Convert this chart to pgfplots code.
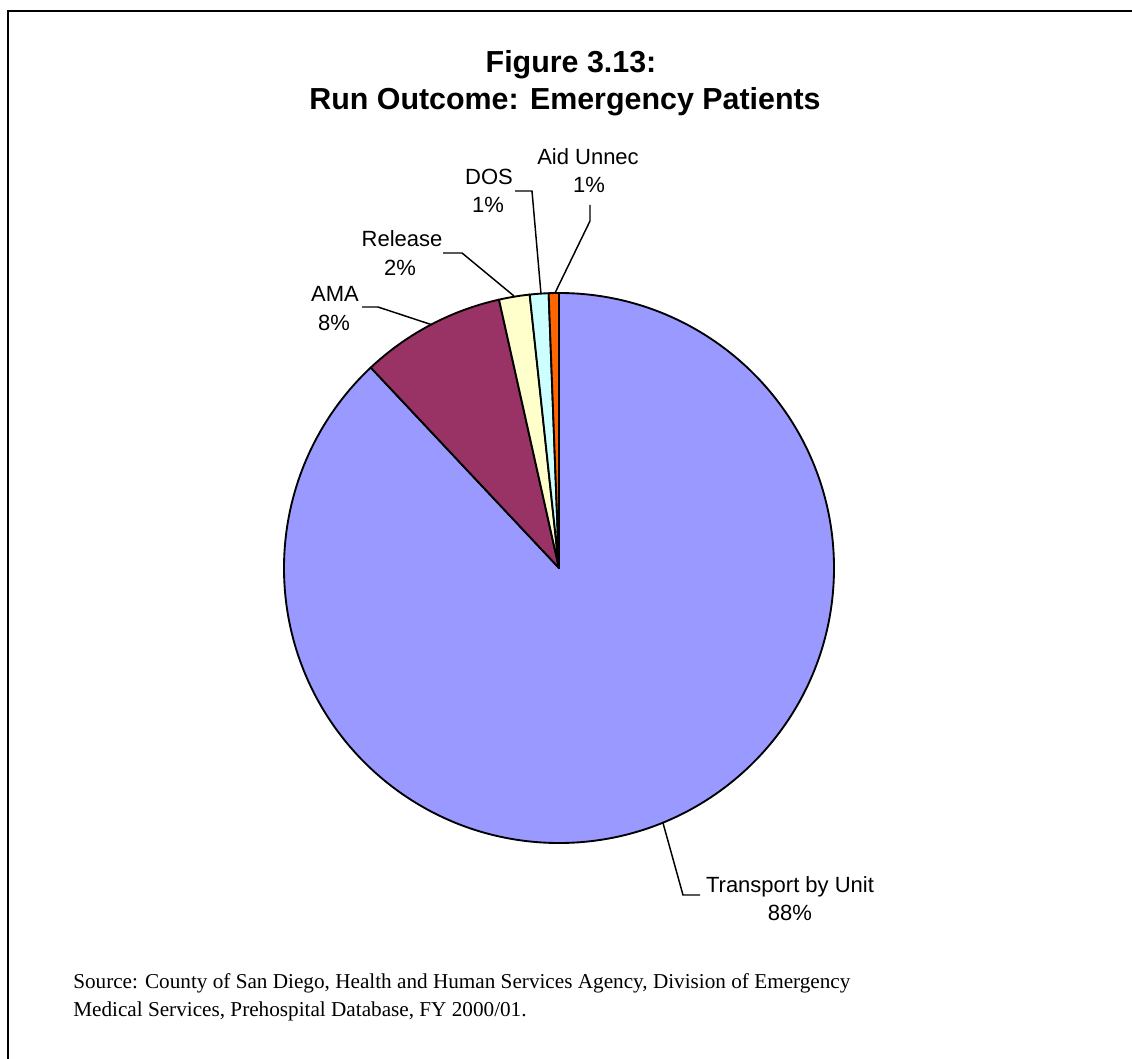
\documentclass[border=0pt]{standalone}
\usepackage{fontspec}
\setmainfont{Liberation Serif}
\newfontfamily\arial{Liberation Sans}
\usepackage{pgfplots}
\usepackage{pgfplotstable}
\pgfplotsset{compat=1.18}

\definecolor{cTransport}{HTML}{9999FF}
\definecolor{cAMA}{HTML}{993366}
\definecolor{cRelease}{HTML}{FFFFCC}
\definecolor{cDOS}{HTML}{CCFFFF}
\definecolor{cAid}{HTML}{FF6600}

\pgfplotstableread{
label value
Transport 88.0
AMA 8.5
Release 1.8
DOS 1.1
AidUnnec 0.6
}\piedata

\pgfplotstablegetelem{0}{value}\of\piedata\let\vA\pgfplotsretval
\pgfplotstablegetelem{1}{value}\of\piedata\let\vB\pgfplotsretval
\pgfplotstablegetelem{2}{value}\of\piedata\let\vC\pgfplotsretval
\pgfplotstablegetelem{3}{value}\of\piedata\let\vD\pgfplotsretval
\pgfplotstablegetelem{4}{value}\of\piedata\let\vE\pgfplotsretval
\pgfmathsetmacro\aA{90}
\pgfmathsetmacro\aB{\aA-3.6*\vA}
\pgfmathsetmacro\aC{\aB-3.6*\vB}
\pgfmathsetmacro\aD{\aC-3.6*\vC}
\pgfmathsetmacro\aE{\aD-3.6*\vD}
\pgfmathsetmacro\aF{\aE-3.6*\vE}

\newcommand\pieslice[3]{%
  \filldraw[fill=#1,draw=black,line width=1.4pt,line join=round]
    (axis cs:559,568) -- ++(#2:206.25pt) arc[start angle=#2,end angle=#3,radius=206.25pt] -- cycle;}

\begin{document}
\begin{tikzpicture}
\begin{axis}[
  name=ax,
  scale only axis,
  width=849pt, height=794.25pt,
  xmin=0, xmax=1132, ymin=0, ymax=1059,
  y dir=reverse,
  axis lines=none,
  clip=true,
]
% frame (open at right and bottom)
\addplot[black, line width=1.9pt, mark=none] coordinates {(8.2,1200) (8.2,10.8) (1300,10.8)};

% pie slices
\pieslice{cTransport}{\aA}{\aB}
\pieslice{cAMA}{\aB}{\aC}
\pieslice{cRelease}{\aC}{\aD}
\pieslice{cDOS}{\aD}{\aE}
\pieslice{cAid}{\aE}{\aF}

% leader lines
\addplot[black, line width=1.1pt, mark=none] coordinates {(362,307) (378,307) (431,324.5)};
\addplot[black, line width=1.1pt, mark=none] coordinates {(443,253) (462,253) (514,296)};
\addplot[black, line width=1.1pt, mark=none] coordinates {(515,191) (532,191) (541,294)};
\addplot[black, line width=1.1pt, mark=none] coordinates {(590,205) (590,221) (555,293)};
\addplot[black, line width=1.1pt, mark=none] coordinates {(663,823) (683,895) (700,895)};

% title
\node[anchor=base, font=\arial\bfseries\fontsize{22.8}{27}\selectfont] at (axis cs:571,73) {Figure 3.13:};
\node[anchor=base, font=\arial\bfseries\fontsize{22.8}{27}\selectfont] at (axis cs:565,110) {Run Outcome: Emergency Patients};

% labels
\tikzset{lbl/.style={anchor=base, inner sep=0pt, font=\arial\fontsize{16.5}{19}\selectfont}}
\node[lbl] at (axis cs:588,165) {Aid Unnec};
\node[lbl] at (axis cs:589,193) {1\%};
\node[lbl] at (axis cs:489,185) {DOS};
\node[lbl] at (axis cs:488,213) {1\%};
\node[lbl] at (axis cs:402,247) {Release};
\node[lbl] at (axis cs:400,276) {2\%};
\node[lbl] at (axis cs:335,302) {AMA};
\node[lbl] at (axis cs:334,330) {8\%};
\node[lbl] at (axis cs:790,892) {Transport by Unit};
\node[lbl] at (axis cs:790,920) {88\%};

% source
\tikzset{src/.style={anchor=base west, inner sep=0pt, font=\fontsize{15.9}{18}\selectfont}}
\node[src] at (axis cs:73,988.5) {Source: County of San Diego, Health and Human Services Agency, Division of Emergency};
\node[src] at (axis cs:73,1016.5) {Medical Services, Prehospital Database, FY 2000/01.};
\end{axis}
\pgfresetboundingbox
\path[use as bounding box] (ax.south west) rectangle (ax.north east);
\end{tikzpicture}
\end{document}
